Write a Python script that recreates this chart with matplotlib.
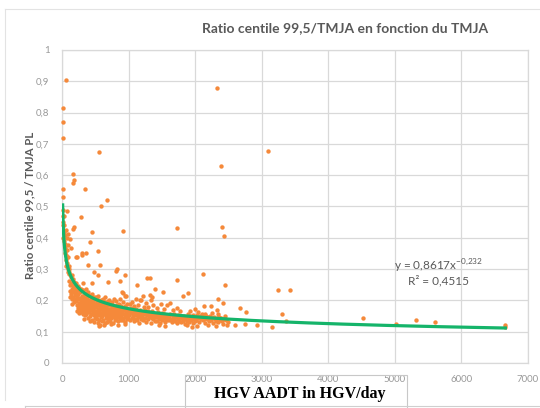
import numpy as np
import matplotlib
matplotlib.use("Agg")
import matplotlib.pyplot as plt
from matplotlib.lines import Line2D
from matplotlib.patches import Rectangle

plt.rcParams["mathtext.fontset"] = "custom"
plt.rcParams["mathtext.rm"] = "Lato"

# Points isolés (valeurs hautes / extrêmes)
points_outliers = [
    (60, 0.905), (15, 0.815), (8, 0.77), (15, 0.72), (560, 0.675), (170, 0.603),
    (180, 0.585), (170, 0.575), (8, 0.555), (350, 0.555), (8, 0.53), (2325, 0.878),
    (2385, 0.63), (2400, 0.436), (2430, 0.407), (3090, 0.676), (1725, 0.43), (915, 0.423),
    (585, 0.5), (675, 0.52), (75, 0.487), (285, 0.468), (450, 0.42), (180, 0.433),
    (165, 0.428), (60, 0.425), (90, 0.413), (75, 0.4), (120, 0.397), (90, 0.378),
    (75, 0.362), (135, 0.368), (420, 0.385), (540, 0.359), (300, 0.353), (360, 0.352),
    (90, 0.34), (210, 0.34), (225, 0.34), (300, 0.346), (390, 0.313), (570, 0.313),
    (480, 0.29), (540, 0.28), (810, 0.295), (870, 0.263), (690, 0.26), (450, 0.257),
    (315, 0.257), (150, 0.282), (825, 0.3), (945, 0.28),
]

# Points épars au-dessus du nuage principal (1000 - 3500) et à droite
points_scatter = [
    (1275, 0.27), (1320, 0.27), (1725, 0.266), (1515, 0.228), (1395, 0.237), (1125, 0.25),
    (1890, 0.224), (1815, 0.215), (1320, 0.218), (945, 0.215), (900, 0.228), (1185, 0.202),
    (2115, 0.285), (2445, 0.25), (2340, 0.205), (2130, 0.183), (2235, 0.183), (2415, 0.192),
    (2670, 0.176), (2760, 0.163), (2325, 0.17), (2925, 0.12), (3150, 0.115), (3240, 0.234),
    (3420, 0.234), (3300, 0.157), (3360, 0.135), (2595, 0.122), (2745, 0.125),
    (4515, 0.144), (5010, 0.125), (5325, 0.138), (5610, 0.131), (6660, 0.122), (6660, 0.115),
]

# Nuage principal
points_core = [
    # 0 - 100
    (10, 0.49), (20, 0.47), (15, 0.45), (30, 0.44), (25, 0.42), (40, 0.41), (35, 0.39),
    (50, 0.38), (45, 0.37), (60, 0.36), (55, 0.345), (70, 0.34), (65, 0.33), (80, 0.32),
    (75, 0.31), (90, 0.3), (85, 0.29), (100, 0.29), (20, 0.4), (40, 0.35), (60, 0.31),
    (100, 0.31), (30, 0.47), (10, 0.44),
    # 100 - 200
    (105, 0.285), (112, 0.262), (118, 0.248), (124, 0.231), (131, 0.275), (138, 0.219),
    (142, 0.254), (149, 0.238), (155, 0.205), (161, 0.268), (166, 0.226), (172, 0.212),
    (178, 0.247), (184, 0.195), (190, 0.233), (196, 0.218), (108, 0.3), (127, 0.21),
    (146, 0.19), (168, 0.245), (187, 0.26), (199, 0.205),
    # 200 - 300
    (203, 0.241), (208, 0.198), (214, 0.226), (219, 0.185), (225, 0.213), (231, 0.232),
    (236, 0.176), (242, 0.204), (247, 0.221), (253, 0.191), (259, 0.168), (264, 0.209),
    (270, 0.183), (276, 0.228), (281, 0.197), (287, 0.172), (293, 0.215), (298, 0.188),
    (212, 0.255), (239, 0.245), (262, 0.24), (285, 0.236), (221, 0.165), (250, 0.159),
    (278, 0.162),
    # 300 - 400
    (302, 0.205), (306, 0.178), (311, 0.193), (315, 0.162), (320, 0.214), (324, 0.186),
    (329, 0.171), (334, 0.198), (338, 0.152), (343, 0.225), (347, 0.181), (352, 0.166),
    (357, 0.203), (361, 0.189), (366, 0.158), (370, 0.174), (375, 0.212), (380, 0.195),
    (384, 0.145), (389, 0.183), (393, 0.168), (398, 0.201), (309, 0.232), (327, 0.142),
    (341, 0.209), (355, 0.238), (368, 0.219), (386, 0.226), (396, 0.176), (317, 0.155),
    (378, 0.163),
    # 400 - 500
    (403, 0.187), (407, 0.162), (412, 0.175), (416, 0.198), (421, 0.149), (425, 0.183),
    (430, 0.169), (434, 0.206), (439, 0.156), (443, 0.191), (448, 0.172), (452, 0.138),
    (457, 0.184), (461, 0.161), (466, 0.199), (470, 0.176), (475, 0.152), (479, 0.188),
    (484, 0.165), (488, 0.21), (493, 0.143), (497, 0.179), (410, 0.218), (428, 0.135),
    (446, 0.222), (463, 0.195), (481, 0.132), (499, 0.158), (418, 0.171), (455, 0.205),
    # 500 - 600
    (503, 0.167), (507, 0.19), (512, 0.154), (516, 0.178), (521, 0.141), (525, 0.198),
    (530, 0.163), (534, 0.184), (539, 0.127), (543, 0.171), (548, 0.152), (552, 0.193),
    (557, 0.168), (561, 0.136), (566, 0.181), (570, 0.158), (575, 0.122), (579, 0.174),
    (584, 0.146), (588, 0.188), (593, 0.161), (597, 0.133), (510, 0.212), (528, 0.205),
    (546, 0.215), (563, 0.119), (581, 0.2), (599, 0.175), (518, 0.145), (555, 0.162),
    # 600 - 700
    (603, 0.178), (608, 0.151), (613, 0.192), (618, 0.165), (623, 0.138), (628, 0.183),
    (633, 0.157), (638, 0.171), (643, 0.128), (648, 0.196), (653, 0.162), (658, 0.145),
    (663, 0.179), (668, 0.154), (673, 0.187), (678, 0.132), (683, 0.168), (688, 0.149),
    (693, 0.174), (698, 0.141), (611, 0.205), (631, 0.121), (651, 0.21), (671, 0.17),
    (691, 0.198), (625, 0.175), (685, 0.158),
    # 700 - 800
    (703, 0.163), (708, 0.185), (714, 0.147), (719, 0.172), (725, 0.135), (730, 0.158),
    (736, 0.19), (741, 0.143), (747, 0.167), (752, 0.152), (758, 0.178), (763, 0.129),
    (769, 0.161), (774, 0.182), (780, 0.148), (785, 0.169), (791, 0.137), (796, 0.155),
    (711, 0.2), (733, 0.125), (755, 0.195), (777, 0.162), (799, 0.175), (722, 0.155),
    (788, 0.205),
    # 800 - 900
    (803, 0.152), (808, 0.171), (814, 0.139), (819, 0.163), (825, 0.184), (830, 0.146),
    (836, 0.158), (841, 0.176), (847, 0.133), (852, 0.165), (858, 0.149), (863, 0.188),
    (869, 0.142), (874, 0.16), (880, 0.172), (885, 0.136), (891, 0.154), (896, 0.168),
    (811, 0.198), (844, 0.122), (866, 0.205), (889, 0.182), (822, 0.155), (877, 0.15),
    # 900 - 1000
    (903, 0.161), (909, 0.145), (915, 0.176), (921, 0.138), (927, 0.157), (933, 0.169),
    (939, 0.131), (945, 0.152), (951, 0.183), (957, 0.147), (963, 0.164), (969, 0.139),
    (975, 0.158), (981, 0.172), (987, 0.144), (993, 0.155), (999, 0.167), (918, 0.195),
    (948, 0.125), (978, 0.19), (912, 0.225), (966, 0.215),
    # 1000 - 1200
    (1005, 0.152), (1013, 0.166), (1021, 0.138), (1029, 0.159), (1037, 0.175), (1045, 0.143),
    (1053, 0.162), (1061, 0.149), (1069, 0.17), (1077, 0.133), (1085, 0.156), (1093, 0.165),
    (1101, 0.141), (1109, 0.152), (1117, 0.172), (1125, 0.136), (1133, 0.158), (1141, 0.147),
    (1149, 0.163), (1157, 0.129), (1165, 0.155), (1173, 0.168), (1181, 0.14), (1189, 0.151),
    (1197, 0.16), (1016, 0.188), (1048, 0.195), (1080, 0.182), (1112, 0.205), (1144, 0.185),
    (1176, 0.2),
    # 1200 - 1400
    (1204, 0.148), (1213, 0.162), (1222, 0.137), (1231, 0.155), (1240, 0.17), (1249, 0.143),
    (1258, 0.158), (1267, 0.131), (1276, 0.152), (1285, 0.165), (1294, 0.14), (1303, 0.156),
    (1312, 0.147), (1321, 0.161), (1330, 0.128), (1339, 0.153), (1348, 0.144), (1357, 0.166),
    (1366, 0.139), (1375, 0.15), (1384, 0.158), (1393, 0.135), (1226, 0.18), (1262, 0.192),
    (1298, 0.178), (1334, 0.2), (1370, 0.185), (1218, 0.215), (1350, 0.21),
    # 1400 - 1600
    (1405, 0.146), (1415, 0.157), (1425, 0.134), (1435, 0.151), (1445, 0.163), (1455, 0.141),
    (1465, 0.154), (1475, 0.128), (1485, 0.148), (1495, 0.159), (1505, 0.138), (1515, 0.15),
    (1525, 0.143), (1535, 0.156), (1545, 0.131), (1555, 0.147), (1565, 0.14), (1575, 0.153),
    (1585, 0.136), (1595, 0.145), (1430, 0.175), (1480, 0.19), (1530, 0.172), (1580, 0.185),
    (1450, 0.122), (1540, 0.118),
    # 1600 - 1800
    (1605, 0.149), (1617, 0.137), (1629, 0.155), (1641, 0.142), (1653, 0.131), (1665, 0.15),
    (1677, 0.139), (1689, 0.158), (1701, 0.134), (1713, 0.146), (1725, 0.127), (1737, 0.152),
    (1749, 0.141), (1761, 0.135), (1773, 0.148), (1785, 0.13), (1797, 0.143), (1620, 0.192),
    (1660, 0.168), (1720, 0.175), (1780, 0.165),
    # 1800 - 2000
    (1806, 0.145), (1818, 0.133), (1830, 0.151), (1842, 0.139), (1854, 0.126), (1866, 0.147),
    (1878, 0.135), (1890, 0.155), (1902, 0.141), (1914, 0.13), (1926, 0.149), (1938, 0.137),
    (1950, 0.144), (1962, 0.128), (1974, 0.152), (1986, 0.14), (1998, 0.134), (1875, 0.12),
    (1960, 0.115), (1920, 0.165), (1995, 0.172),
    # 2000 - 2500
    (2008, 0.146), (2020, 0.138), (2035, 0.152), (2048, 0.143), (2060, 0.131), (2075, 0.149),
    (2088, 0.14), (2100, 0.155), (2112, 0.136), (2125, 0.147), (2140, 0.142), (2152, 0.129),
    (2165, 0.151), (2178, 0.139), (2190, 0.146), (2205, 0.133), (2218, 0.15), (2230, 0.141),
    (2245, 0.137), (2258, 0.145), (2270, 0.128), (2285, 0.148), (2298, 0.14), (2310, 0.134),
    (2325, 0.143), (2340, 0.13), (2355, 0.147), (2370, 0.138), (2385, 0.144), (2400, 0.135),
    (2415, 0.126), (2430, 0.141), (2445, 0.149), (2460, 0.137), (2475, 0.12), (2490, 0.132),
    (2050, 0.162), (2150, 0.158), (2250, 0.16), (2350, 0.155), (2030, 0.118), (2200, 0.12),
    (2320, 0.118),
]

# Courbe de tendance (puissance) affichée sur le graphique
fit_a = 0.8617
fit_b = -0.232
fit_r2 = "0,4515"
fit_xmin, fit_xmax = 10, 6660

x_ticks = [0, 1000, 2000, 3000, 4000, 5000, 6000, 7000]
y_ticks = [0, 0.1, 0.2, 0.3, 0.4, 0.5, 0.6, 0.7, 0.8, 0.9, 1]
y_tick_labels = ["0", "0,1", "0,2", "0,3", "0,4", "0,5", "0,6", "0,7", "0,8", "0,9", "1"]

all_pts = np.array(points_core + points_scatter + points_outliers)
xs, ys = all_pts[:, 0], all_pts[:, 1]

fig = plt.figure(figsize=(5.4, 4.08), dpi=100)
ax = fig.add_axes([62 / 540, 1 - 363 / 408, (528 - 62) / 540, (363 - 50) / 408])

grid_col = "#D9D9D9"
ax.set_xlim(0, 7000)
ax.set_ylim(0, 1)
ax.set_xticks(x_ticks)
ax.set_xticklabels([str(v) for v in x_ticks])
ax.set_yticks(y_ticks)
ax.set_yticklabels(y_tick_labels)
ax.grid(True, color=grid_col, linewidth=0.9)
ax.set_axisbelow(True)
for s in ax.spines.values():
    s.set_color(grid_col)
    s.set_linewidth(0.9)
ax.tick_params(length=0, colors="#999999", labelsize=7, pad=9)
for lab in ax.get_xticklabels() + ax.get_yticklabels():
    lab.set_fontfamily("Lato")

ax.scatter(xs, ys, s=10, color="#F5893A", linewidths=0, zorder=3, clip_on=False)

xf = np.geomspace(fit_xmin, fit_xmax, 400)
ax.plot(xf, fit_a * xf ** fit_b, color="#15B46A", lw=2.3, zorder=4)

ax.text(5650, 0.308, r"y = 0,8617x$^{\mathregular{-0{,}232}}$", ha="center", va="center",
        fontsize=8.5, color="#595959", family="Lato")
ax.text(5650, 0.262, "R² = " + fit_r2, ha="center", va="center",
        fontsize=8.5, color="#595959", family="Lato")

fig.text(345 / 540, 1 - 28 / 408, "Ratio centile 99,5/TMJA en fonction du TMJA",
         ha="center", va="center", fontsize=10, color="#595959",
         family="Lato", fontweight="bold")
fig.text(30 / 540, 1 - 205 / 408, "Ratio centile 99,5 / TMJA PL", rotation=90,
         ha="center", va="center", fontsize=8.3, color="#595959",
         family="Lato", fontweight="bold")

# cadres
fig.add_artist(Line2D([5 / 540, 1], [1 - 9 / 408, 1 - 9 / 408], color="#E3E3E3", lw=0.8))
fig.add_artist(Line2D([5 / 540, 5 / 540], [1 - 9 / 408, 1 - 400 / 408], color="#E3E3E3", lw=0.8))
fig.add_artist(Line2D([25 / 540, 1], [1 - 406 / 408, 1 - 406 / 408], color="#CFCFCF", lw=0.8))
fig.add_artist(Line2D([25 / 540, 25 / 540], [1 - 406 / 408, 0], color="#CFCFCF", lw=0.8))
fig.add_artist(Rectangle((185 / 540, -0.01), (407 - 185) / 540, 1 - 375 / 408 + 0.01,
                         transform=fig.transFigure, facecolor="none",
                         edgecolor="#C8C8C8", lw=0.8))

fig.text(300 / 540, 1 - 394 / 408, "HGV AADT in HGV/day", ha="center", va="center",
         fontsize=11.5, fontweight="bold", family="Liberation Serif", color="black")

fig.savefig("out.png", dpi=100)
